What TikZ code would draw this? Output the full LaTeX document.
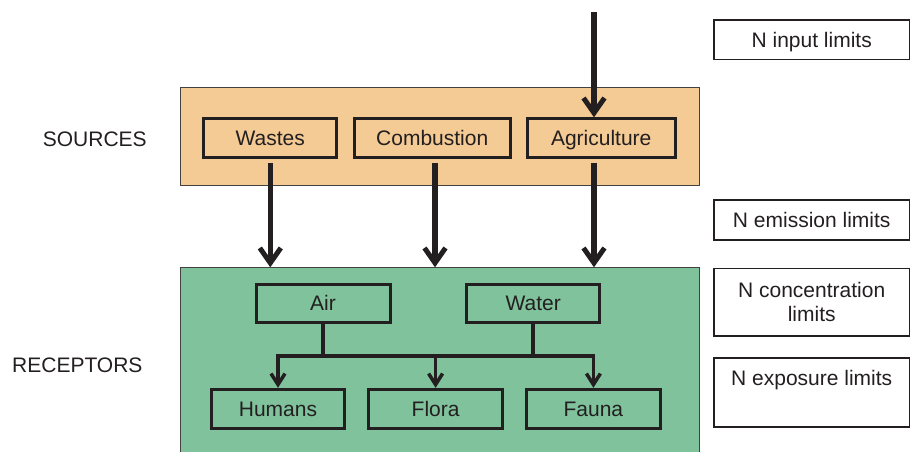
\documentclass[tikz,border=0pt]{standalone}
\usepackage{fontspec}
\setmainfont{Liberation Sans}
\usetikzlibrary{arrows.meta}
\definecolor{ink}{HTML}{231F20}
\definecolor{srcfill}{HTML}{F4CA95}
\definecolor{recfill}{HTML}{7FC29B}
\begin{document}
\begin{tikzpicture}[x=1pt,y=-1pt,
  every node/.style={font=\fontsize{21}{24}\selectfont, text=ink},
  box/.style={draw=ink, line width=3pt, inner sep=0pt, minimum height=39pt, text height=15pt, text depth=0pt},
  region/.style={draw=ink!85, line width=0.8pt, inner sep=0pt},
  limbox/.style={draw=ink, line width=1.2pt, inner sep=0pt, minimum width=195.6pt, align=center},
  big/.style={draw=ink, line width=5.5pt, -{Straight Barb[length=15pt,width=21pt,line width=5pt]}},
  small/.style={draw=ink, line width=3.5pt},
  smallarr/.style={small, -{Straight Barb[length=11pt,width=14pt,line width=3.5pt]}}]
\useasboundingbox (0,0) rectangle (910,451);
\clip (0,0) rectangle (910,451);

% regions
\node[region, fill=srcfill, minimum width=519pt, minimum height=98.4pt] (src) at (439.5,136.5) {};
\node[region, fill=recfill, minimum width=519pt, minimum height=192.3pt] (rec) at (439.5,363.85) {};

% side labels
\node[anchor=west, inner sep=0pt, text height=15pt, text depth=0pt] (srclab) at (42.7,139) {SOURCES};
\node[anchor=west, inner sep=0pt, text height=15pt, text depth=0pt] (reclab) at (12,365) {RECEPTORS};

% sources
\node[box, fill=srcfill, minimum width=133pt] (wastes) at (270.3,138.3) {Wastes};
\node[box, fill=srcfill, minimum width=156pt] (comb) at (432.2,138.3) {Combustion};
\node[box, fill=srcfill, minimum width=148pt] (agri) at (601.2,138.3) {Agriculture};

% receptors
\node[box, fill=recfill, minimum width=134pt, minimum height=38.3pt] (air) at (323,303.3) {Air};
\node[box, fill=recfill, minimum width=133.5pt, minimum height=38.3pt] (water) at (533.2,303.3) {Water};
\node[box, fill=recfill, minimum width=133.7pt] (hum) at (278,408.8) {Humans};
\node[box, fill=recfill, minimum width=133.7pt] (flora) at (435.6,408.8) {Flora};
\node[box, fill=recfill, minimum width=133.7pt] (fauna) at (593.4,408.8) {Fauna};

% limit boxes
\node[limbox, minimum height=39.3pt, text height=15pt, text depth=0pt] (inlim) at (811.7,39.7) {N input limits};
\node[limbox, minimum height=40pt, text height=15pt, text depth=0pt] (emlim) at (811.7,220) {N emission limits};
\node[limbox, minimum height=67.7pt] (conlim) at (811.7,302.2) {N concentration\\limits};
\node[limbox, minimum height=69pt] (explim) at (811.7,392.5) {};
\node[anchor=base, inner sep=0pt] (exptext) at ([yshift=-28pt]explim.north) {N exposure limits};

% big arrows
\coordinate (intop) at (594,12);
\draw[big] (intop) -- (intop |- agri.north);
\draw[big] ([yshift=-3.7pt]wastes.south) -- (wastes.south |- rec.north);
\draw[big] ([xshift=2.8pt,yshift=-3.7pt]comb.south) -- ([xshift=2.8pt]comb.south |- rec.north);
\draw[big] ([xshift=-7.2pt,yshift=-3.7pt]agri.south) -- ([xshift=-7.2pt]agri.south |- rec.north);

% receptor connectors
\coordinate (bus) at (0,356);
\draw[small] (air.south) -- (air.south |- bus);
\draw[small] (water.south) -- (water.south |- bus);
\draw[smallarr] (flora.north |- bus) -| (hum.north);
\draw[smallarr] (flora.north |- bus) -| (fauna.north);
\draw[smallarr] (flora.north |- bus) -- (flora.north);
\end{tikzpicture}
\end{document}
